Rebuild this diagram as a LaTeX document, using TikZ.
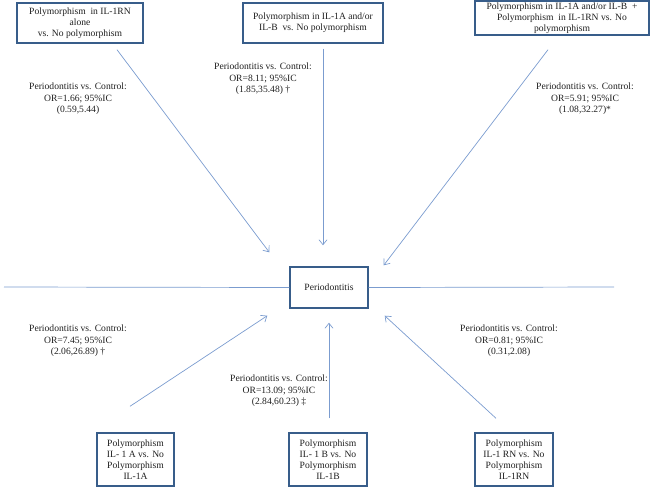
\documentclass[tikz,border=0pt]{standalone}
\usepackage{fontspec}
\setmainfont{Liberation Serif}
\usepackage{xcolor}
\usetikzlibrary{arrows.meta,calc}
\definecolor{Frame}{HTML}{385D8A}
\definecolor{Wire}{HTML}{7B9CCF}
\definecolor{Ink}{HTML}{202020}

\begin{document}
\begin{tikzpicture}[
  x=1pt, y=-1pt,
  box/.style={draw=Frame, line width=1.4pt, fill=white, text=Ink, align=center, inner sep=1pt,
    font=\fontsize{9.6}{10.8}\selectfont},
  lbl/.style={text=Ink, align=center, inner sep=0pt, font=\fontsize{9.6}{11.6}\selectfont},
  arrow/.style={-{Straight Barb[length=5pt,width=8pt]}, line width=0.7pt, draw=Wire}
]
\useasboundingbox (0,0) rectangle (650,490);
% boxes
\node[box, minimum width=126pt, minimum height=40pt] (rnAlone) at (80,23) {Polymorphism\ \ in IL-1RN\\alone\\vs. No polymorphism};
\node[box, minimum width=140pt, minimum height=40pt] (abAny) at (313,23) {Polymorphism in IL-1A and/or\\IL-B\ \ vs. No polymorphism};
\node[box, minimum width=174pt, minimum height=34pt] (abRn) at (562,18) {Polymorphism in IL-1A and/or IL-B\ \ +\\Polymorphism\ \ in IL-1RN vs. No\\polymorphism};
\node[box, minimum width=78pt, minimum height=41pt] (perio) at (329,287.5) {Periodontitis};
\node[box, minimum width=77pt, minimum height=53pt] (ilA) at (135.5,459.5) {Polymorphism\\IL- 1 A vs. No\\Polymorphism\\IL-1A};
\node[box, minimum width=78pt, minimum height=53pt] (ilB) at (328,459.5) {Polymorphism\\IL- 1 B vs. No\\Polymorphism\\IL-1B};
\node[box, minimum width=78pt, minimum height=53pt] (ilRn) at (514,459.5) {Polymorphism\\IL-1 RN vs. No\\Polymorphism\\IL-1RN};
% odds ratios
\node[lbl] (orRn) at (78,99) {Periodontitis vs. Control:\\OR=1.66; 95\%IC\\(0.59,5.44)};
\node[lbl] (orAb) at (263,79) {Periodontitis vs. Control:\\OR=8.11; 95\%IC\\(1.85,35.48) \textdagger};
\node[lbl] (orAbRn) at (585,99) {Periodontitis vs. Control:\\OR=5.91; 95\%IC\\(1.08,32.27)*};
\node[lbl] (orA) at (78,341) {Periodontitis vs. Control:\\OR=7.45; 95\%IC\\(2.06,26.89) \textdagger};
\node[lbl] (orB) at (279,391) {Periodontitis vs. Control:\\OR=13.09; 95\%IC\\(2.84,60.23) \textdaggerdbl};
\node[lbl] (orRnOnly) at (509,341) {Periodontitis vs. Control:\\OR=0.81; 95\%IC\\(0.31,2.08)};
% horizontal rule
\coordinate (lft) at (4,287);
\coordinate (rgt) at (614,287);
\draw[Wire, line width=0.7pt] (lft) -- (perio.west);
\draw[Wire, line width=0.7pt] (perio.east) -- (rgt);
% arrows
\draw[arrow] ($(rnAlone.south)+(37,6)$) -- ($(perio.north west)+(-20,-14)$);
\draw[arrow] ($(abAny.south)+(10,5)$) -- ($(perio.north)+(-6,-21)$);
\draw[arrow] ($(abRn.south)+(-14,14)$) -- ($(perio.north east)+(15,-1)$);
\draw[arrow] ($(ilA.north)+(-5.5,-26)$) -- ($(perio.south west)+(-22,7)$);
\draw[arrow] ($(ilB.north)+(1,-14)$) -- ($(perio.south)+(0,14)$);
\draw[arrow] ($(ilRn.north)+(-18,-14)$) -- ($(perio.south east)+(16,7)$);
\end{tikzpicture}
\end{document}
